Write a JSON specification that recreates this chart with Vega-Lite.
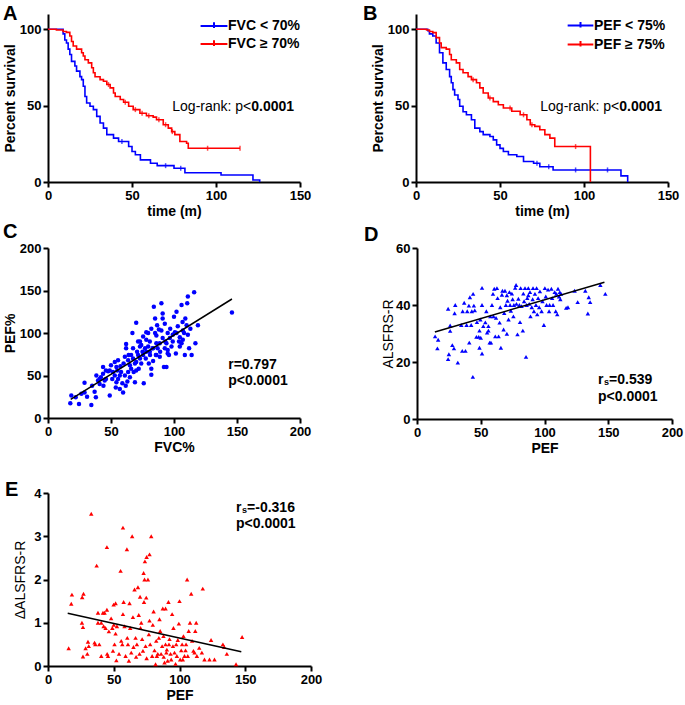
{
"$schema": "https://vega.github.io/schema/vega-lite/v6.json",
"padding": {"left": 2, "top": 3, "right": 2, "bottom": 0},
"background": "white",
"config": {
 "font": "Liberation Sans",
 "view": {"stroke": null},
 "axis": {"domainColor": "#000", "domainWidth": 2, "tickColor": "#000", "tickWidth": 2, "tickSize": 5, "labelColor": "#000", "labelFont": "Liberation Sans", "labelFontSize": 13, "labelFontWeight": "bold", "labelPadding": 2, "titleColor": "#000", "titleFont": "Liberation Sans", "titleFontSize": 14, "titleFontWeight": "bold", "grid": false, "labelFlush": false, "labelOverlap": false, "titlePadding": 2}
},
"datasets": {
 "kmA": [
  {"g":"FVC < 70%","t":0,"s":100},{"g":"FVC < 70%","t":9,"s":97},{"g":"FVC < 70%","t":10,"s":93},{"g":"FVC < 70%","t":11,"s":91},{"g":"FVC < 70%","t":12,"s":87},{"g":"FVC < 70%","t":13,"s":83.5},{"g":"FVC < 70%","t":14,"s":79},{"g":"FVC < 70%","t":16,"s":76},{"g":"FVC < 70%","t":17,"s":72.6},{"g":"FVC < 70%","t":19,"s":69},{"g":"FVC < 70%","t":20,"s":67},{"g":"FVC < 70%","t":21,"s":62.7},{"g":"FVC < 70%","t":22,"s":56},{"g":"FVC < 70%","t":23,"s":51.7},{"g":"FVC < 70%","t":25,"s":49.6},{"g":"FVC < 70%","t":27,"s":47.4},{"g":"FVC < 70%","t":29,"s":43},{"g":"FVC < 70%","t":31,"s":38.6},{"g":"FVC < 70%","t":33,"s":35.3},{"g":"FVC < 70%","t":35,"s":31},{"g":"FVC < 70%","t":39,"s":28.7},{"g":"FVC < 70%","t":42,"s":26.5},{"g":"FVC < 70%","t":48,"s":23.2},{"g":"FVC < 70%","t":50,"s":20},{"g":"FVC < 70%","t":52,"s":17.8},{"g":"FVC < 70%","t":55,"s":14.5},{"g":"FVC < 70%","t":61,"s":12.3},{"g":"FVC < 70%","t":65,"s":10.7},{"g":"FVC < 70%","t":75,"s":9},{"g":"FVC < 70%","t":81.5,"s":6.1},{"g":"FVC < 70%","t":103,"s":4.6},{"g":"FVC < 70%","t":122,"s":1.3},{"g":"FVC < 70%","t":126,"s":0},
  {"g":"FVC ≥ 70%","t":0,"s":100},{"g":"FVC ≥ 70%","t":5,"s":99.5},{"g":"FVC ≥ 70%","t":9,"s":98.5},{"g":"FVC ≥ 70%","t":11,"s":98},{"g":"FVC ≥ 70%","t":13,"s":95.6},{"g":"FVC ≥ 70%","t":14,"s":92},{"g":"FVC ≥ 70%","t":15,"s":89},{"g":"FVC ≥ 70%","t":17,"s":87},{"g":"FVC ≥ 70%","t":20,"s":84.6},{"g":"FVC ≥ 70%","t":21,"s":82.5},{"g":"FVC ≥ 70%","t":22,"s":80},{"g":"FVC ≥ 70%","t":24,"s":78},{"g":"FVC ≥ 70%","t":26,"s":74.8},{"g":"FVC ≥ 70%","t":27,"s":71.5},{"g":"FVC ≥ 70%","t":28,"s":68.9},{"g":"FVC ≥ 70%","t":31,"s":67},{"g":"FVC ≥ 70%","t":33,"s":66},{"g":"FVC ≥ 70%","t":35,"s":63.8},{"g":"FVC ≥ 70%","t":37,"s":61.6},{"g":"FVC ≥ 70%","t":39,"s":58.3},{"g":"FVC ≥ 70%","t":40,"s":56},{"g":"FVC ≥ 70%","t":43,"s":54},{"g":"FVC ≥ 70%","t":45,"s":52.2},{"g":"FVC ≥ 70%","t":48,"s":49.6},{"g":"FVC ≥ 70%","t":50.7,"s":47.4},{"g":"FVC ≥ 70%","t":54.7,"s":45},{"g":"FVC ≥ 70%","t":58.6,"s":43.4},{"g":"FVC ≥ 70%","t":62.6,"s":42.5},{"g":"FVC ≥ 70%","t":64.6,"s":40.8},{"g":"FVC ≥ 70%","t":68.6,"s":37.5},{"g":"FVC ≥ 70%","t":71.6,"s":35.3},{"g":"FVC ≥ 70%","t":73.6,"s":33},{"g":"FVC ≥ 70%","t":75.5,"s":31},{"g":"FVC ≥ 70%","t":78.5,"s":26.5},{"g":"FVC ≥ 70%","t":82.5,"s":25.4},{"g":"FVC ≥ 70%","t":83.5,"s":22.1},{"g":"FVC ≥ 70%","t":114.3,"s":22.1}
 ],
 "cA": [
  {"g":"FVC < 70%","t":44,"s":26.5},{"g":"FVC < 70%","t":70,"s":10.7},{"g":"FVC < 70%","t":79,"s":9},
  {"g":"FVC ≥ 70%","t":36,"s":63.8},{"g":"FVC ≥ 70%","t":46,"s":52.2},{"g":"FVC ≥ 70%","t":52,"s":47.4},{"g":"FVC ≥ 70%","t":56,"s":45},{"g":"FVC ≥ 70%","t":60,"s":43.4},{"g":"FVC ≥ 70%","t":66,"s":40.8},{"g":"FVC ≥ 70%","t":70,"s":37.5},{"g":"FVC ≥ 70%","t":74,"s":33},{"g":"FVC ≥ 70%","t":95,"s":22.1},{"g":"FVC ≥ 70%","t":114.3,"s":22.1}
 ],
 "kmB": [
  {"g":"PEF < 75%","t":0,"s":100},{"g":"PEF < 75%","t":7,"s":99},{"g":"PEF < 75%","t":8,"s":97},{"g":"PEF < 75%","t":10,"s":95.6},{"g":"PEF < 75%","t":12,"s":91},{"g":"PEF < 75%","t":14,"s":84.6},{"g":"PEF < 75%","t":16,"s":78},{"g":"PEF < 75%","t":18,"s":73.7},{"g":"PEF < 75%","t":20,"s":69},{"g":"PEF < 75%","t":21,"s":65},{"g":"PEF < 75%","t":22,"s":60.5},{"g":"PEF < 75%","t":23,"s":57},{"g":"PEF < 75%","t":25,"s":54},{"g":"PEF < 75%","t":26,"s":49.6},{"g":"PEF < 75%","t":28,"s":46},{"g":"PEF < 75%","t":30,"s":44},{"g":"PEF < 75%","t":33,"s":40.8},{"g":"PEF < 75%","t":35,"s":35.3},{"g":"PEF < 75%","t":38,"s":33},{"g":"PEF < 75%","t":40,"s":31},{"g":"PEF < 75%","t":44,"s":29.8},{"g":"PEF < 75%","t":46,"s":27.6},{"g":"PEF < 75%","t":48,"s":24.3},{"g":"PEF < 75%","t":50,"s":22},{"g":"PEF < 75%","t":52,"s":20},{"g":"PEF < 75%","t":55,"s":17.8},{"g":"PEF < 75%","t":60,"s":16.7},{"g":"PEF < 75%","t":64,"s":13.4},{"g":"PEF < 75%","t":70,"s":12.3},{"g":"PEF < 75%","t":73.7,"s":10},{"g":"PEF < 75%","t":81.6,"s":7.9},{"g":"PEF < 75%","t":122,"s":4},{"g":"PEF < 75%","t":126,"s":0},
  {"g":"PEF ≥ 75%","t":0,"s":100},{"g":"PEF ≥ 75%","t":6.3,"s":99.5},{"g":"PEF ≥ 75%","t":8,"s":98.5},{"g":"PEF ≥ 75%","t":10,"s":97.8},{"g":"PEF ≥ 75%","t":12,"s":94.5},{"g":"PEF ≥ 75%","t":14,"s":91},{"g":"PEF ≥ 75%","t":15,"s":88},{"g":"PEF ≥ 75%","t":18,"s":87},{"g":"PEF ≥ 75%","t":20,"s":83.5},{"g":"PEF ≥ 75%","t":21,"s":80},{"g":"PEF ≥ 75%","t":24,"s":78},{"g":"PEF ≥ 75%","t":26,"s":73.7},{"g":"PEF ≥ 75%","t":28,"s":71.5},{"g":"PEF ≥ 75%","t":31,"s":69},{"g":"PEF ≥ 75%","t":33,"s":67},{"g":"PEF ≥ 75%","t":36,"s":65},{"g":"PEF ≥ 75%","t":38,"s":61.6},{"g":"PEF ≥ 75%","t":40,"s":58.3},{"g":"PEF ≥ 75%","t":43,"s":55},{"g":"PEF ≥ 75%","t":46,"s":52.6},{"g":"PEF ≥ 75%","t":49,"s":50.6},{"g":"PEF ≥ 75%","t":52,"s":48.5},{"g":"PEF ≥ 75%","t":57,"s":46.3},{"g":"PEF ≥ 75%","t":62,"s":44},{"g":"PEF ≥ 75%","t":66,"s":40.8},{"g":"PEF ≥ 75%","t":68,"s":37.5},{"g":"PEF ≥ 75%","t":70.7,"s":36.4},{"g":"PEF ≥ 75%","t":73.7,"s":34.2},{"g":"PEF ≥ 75%","t":76.7,"s":31},{"g":"PEF ≥ 75%","t":79.7,"s":28.7},{"g":"PEF ≥ 75%","t":82.6,"s":23.2},{"g":"PEF ≥ 75%","t":103.8,"s":23.2},{"g":"PEF ≥ 75%","t":103.8,"s":0}
 ],
 "cB": [
  {"g":"PEF < 75%","t":72,"s":12.3},{"g":"PEF < 75%","t":79,"s":10},{"g":"PEF < 75%","t":95,"s":7.9},{"g":"PEF < 75%","t":114,"s":7.9},
  {"g":"PEF ≥ 75%","t":34,"s":67},{"g":"PEF ≥ 75%","t":44,"s":55},{"g":"PEF ≥ 75%","t":56,"s":48.5},{"g":"PEF ≥ 75%","t":64,"s":44},{"g":"PEF ≥ 75%","t":69,"s":37.5},{"g":"PEF ≥ 75%","t":95,"s":23.2}
 ],
 "C": [
  {"x":17.7,"y":17.4},{"x":18.5,"y":26.5},{"x":22,"y":24.5},{"x":24.6,"y":16.6},{"x":26.5,"y":28.5},{"x":29,"y":30},{"x":29,"y":41.5},{"x":31,"y":25},{"x":34.4,"y":15.4},{"x":35,"y":38},{"x":37,"y":31},{"x":38,"y":24.5},{"x":38.4,"y":50},{"x":39.7,"y":44},{"x":41,"y":46},{"x":42,"y":48},{"x":43.7,"y":52},{"x":43.7,"y":60},{"x":44,"y":38},{"x":45,"y":44},{"x":46,"y":56},{"x":47.7,"y":55},{"x":49,"y":26.5},{"x":50,"y":62},{"x":51,"y":46},{"x":51.6,"y":54},{"x":53,"y":66},{"x":53,"y":50},{"x":53.8,"y":36},{"x":54.3,"y":42},{"x":55,"y":56},{"x":55.6,"y":68},{"x":55.6,"y":46},{"x":57,"y":34},{"x":57.5,"y":61},{"x":58,"y":54},{"x":59,"y":41},{"x":59.6,"y":30},{"x":60,"y":64},{"x":61,"y":72},{"x":61.7,"y":38},{"x":62,"y":87},{"x":62,"y":82},{"x":63,"y":43},{"x":63.6,"y":68},{"x":64,"y":74},{"x":65,"y":62},{"x":65,"y":48},{"x":66,"y":58},{"x":67,"y":100},{"x":67.5,"y":70},{"x":67.5,"y":82},{"x":68,"y":54},{"x":69,"y":64},{"x":69,"y":42},{"x":70,"y":112},{"x":70,"y":56},{"x":70,"y":66},{"x":70.7,"y":78},{"x":71.5,"y":74},{"x":72,"y":58},{"x":73,"y":84},{"x":73,"y":90},{"x":74,"y":64},{"x":75,"y":78},{"x":75.5,"y":96},{"x":76,"y":41},{"x":77,"y":82},{"x":77.6,"y":70},{"x":78,"y":92},{"x":79.5,"y":100},{"x":79.5,"y":84},{"x":80,"y":64},{"x":80.8,"y":90},{"x":81,"y":74},{"x":82,"y":58},{"x":82,"y":51},{"x":83,"y":82},{"x":83.4,"y":67},{"x":84,"y":131},{"x":85,"y":100},{"x":85,"y":117},{"x":85.6,"y":74},{"x":86,"y":88},{"x":86.6,"y":109},{"x":87,"y":82},{"x":88,"y":104},{"x":88.7,"y":72},{"x":89,"y":78},{"x":90,"y":135},{"x":91,"y":117},{"x":91,"y":123},{"x":92,"y":60},{"x":92.7,"y":111},{"x":93,"y":90},{"x":94,"y":60},{"x":95,"y":76},{"x":95,"y":100},{"x":96,"y":74},{"x":97,"y":105},{"x":98,"y":84},{"x":99,"y":98},{"x":100,"y":119},{"x":100.7,"y":101},{"x":101.5,"y":76},{"x":102,"y":125},{"x":103,"y":108},{"x":104,"y":90},{"x":104.6,"y":95},{"x":106,"y":133},{"x":106,"y":88},{"x":106.8,"y":113},{"x":107,"y":103},{"x":108,"y":100},{"x":108.6,"y":74},{"x":109,"y":117},{"x":110,"y":109},{"x":110.5,"y":135},{"x":111,"y":143},{"x":111,"y":98},{"x":112,"y":82},{"x":113,"y":105},{"x":114,"y":74},{"x":116,"y":148},{"x":117,"y":88},{"x":119,"y":109},{"x":146,"y":124},
  {"x":66,"y":74},{"x":73,"y":70},{"x":75.5,"y":74},{"x":78,"y":78},{"x":80.8,"y":78},{"x":83.4,"y":82},{"x":86,"y":74},{"x":88.7,"y":88},{"x":91,"y":94},{"x":94,"y":88},{"x":96.7,"y":94},{"x":99,"y":90},{"x":102,"y":100},{"x":63.6,"y":54},{"x":61,"y":50},{"x":57,"y":50},{"x":54.3,"y":60},{"x":49,"y":56},{"x":46,"y":46},{"x":41,"y":40},{"x":71.5,"y":90},{"x":74,"y":86},{"x":78,"y":101},{"x":82,"y":105},{"x":86,"y":97},{"x":90,"y":103},{"x":92.7,"y":82},{"x":95,"y":80},{"x":104.6,"y":84},{"x":107,"y":92}
 ],
 "D": [
  {"x":14.2,"y":29},{"x":16.6,"y":27.8},{"x":16,"y":24.8},{"x":24.4,"y":38.7},{"x":25,"y":22.7},{"x":24.4,"y":21},{"x":26,"y":32.8},{"x":26,"y":30.9},{"x":27.7,"y":25.9},{"x":29,"y":24.8},{"x":29.5,"y":37.1},{"x":30,"y":40},{"x":32,"y":19.8},{"x":34.7,"y":33},{"x":35.8,"y":37.8},{"x":35.5,"y":23.9},{"x":37,"y":40.8},{"x":38,"y":23.9},{"x":38.9,"y":33},{"x":39.4,"y":37.8},{"x":40.7,"y":39.8},{"x":41,"y":26.8},{"x":41.5,"y":42.7},{"x":42.5,"y":33},{"x":43,"y":37.8},{"x":43.8,"y":14.8},{"x":44,"y":43.9},{"x":44.6,"y":39.8},{"x":45.3,"y":38.1},{"x":46.6,"y":28.8},{"x":47,"y":34},{"x":48.4,"y":28.8},{"x":49,"y":25},{"x":49,"y":31},{"x":49.7,"y":34.9},{"x":50,"y":28.5},{"x":51,"y":40},{"x":51,"y":46},{"x":51,"y":23},{"x":52,"y":32.6},{"x":53.6,"y":33.9},{"x":54.4,"y":37.8},{"x":55,"y":30.3},{"x":56,"y":31},{"x":56,"y":32.6},{"x":57,"y":26.8},{"x":57.5,"y":36},{"x":58,"y":26.8},{"x":58.8,"y":40},{"x":59.6,"y":43.9},{"x":60,"y":36},{"x":60.6,"y":45.7},{"x":61.4,"y":29},{"x":62,"y":35.5},{"x":62.7,"y":45.9},{"x":63.2,"y":42.4},{"x":64,"y":29},{"x":64.8,"y":33.8},{"x":65.3,"y":39.2},{"x":65.8,"y":25},{"x":66.6,"y":43.6},{"x":67,"y":45},{"x":67.9,"y":31.4},{"x":68.4,"y":37.2},{"x":69,"y":45},{"x":69.7,"y":40},{"x":70.5,"y":29.9},{"x":70.5,"y":43.4},{"x":71,"y":41.5},{"x":71.8,"y":34.9},{"x":72.5,"y":44.5},{"x":73,"y":40},{"x":73.6,"y":38},{"x":74.4,"y":44},{"x":75,"y":42},{"x":75.6,"y":36},{"x":76,"y":40},{"x":77,"y":46},{"x":77.7,"y":47},{"x":78,"y":40.4},{"x":78.8,"y":29.7},{"x":79.5,"y":42.2},{"x":80.3,"y":40},{"x":80.8,"y":34},{"x":81.3,"y":45.9},{"x":82,"y":39.6},{"x":83,"y":31},{"x":83.4,"y":44},{"x":84,"y":41.3},{"x":84.7,"y":45.9},{"x":85.5,"y":21.8},{"x":86,"y":40},{"x":86.5,"y":42.4},{"x":87.3,"y":45.9},{"x":87.3,"y":43.4},{"x":88,"y":40.4},{"x":88.6,"y":44.5},{"x":89,"y":36},{"x":90,"y":39.2},{"x":90.7,"y":42},{"x":91,"y":45.9},{"x":91.7,"y":37.8},{"x":92.5,"y":43.9},{"x":93.3,"y":40},{"x":93.8,"y":45.9},{"x":94.3,"y":36.7},{"x":95,"y":42.4},{"x":95.8,"y":39.2},{"x":96.4,"y":44.8},{"x":97.7,"y":37.8},{"x":98.4,"y":41.3},{"x":99.5,"y":33},{"x":100.3,"y":45.9},{"x":101,"y":43},{"x":101.6,"y":40},{"x":102.8,"y":45.4},{"x":103.6,"y":37.8},{"x":104,"y":40},{"x":105.4,"y":45.7},{"x":106,"y":42.4},{"x":106.7,"y":40},{"x":108,"y":44.5},{"x":108.8,"y":37.8},{"x":109.3,"y":43.9},{"x":110,"y":36.7},{"x":110.6,"y":45.7},{"x":111.4,"y":43},{"x":112,"y":44.5},{"x":112.4,"y":42},{"x":113,"y":43.9},{"x":117,"y":39},{"x":118.4,"y":39.2},{"x":123.6,"y":45},{"x":126,"y":41},{"x":132,"y":45},{"x":134,"y":37},{"x":134.7,"y":42.7},{"x":135.8,"y":41},{"x":143.8,"y":47},{"x":147.7,"y":43.9}
 ],
 "E": [
  {"x":15.7,"y":0.41},{"x":17.7,"y":1.44},{"x":18.2,"y":1.65},{"x":25.8,"y":1.0},{"x":26,"y":1.59},{"x":27,"y":1.67},{"x":26.6,"y":0.9},{"x":26.6,"y":0.22},{"x":28.6,"y":0.41},{"x":29.9,"y":0.28},{"x":30.4,"y":0.56},{"x":31,"y":0.46},{"x":32.9,"y":3.52},{"x":35.4,"y":0.54},{"x":36,"y":0.5},{"x":37,"y":2.32},{"x":38,"y":1.23},{"x":38,"y":1.0},{"x":39,"y":0.5},{"x":40.5,"y":0.23},{"x":40.5,"y":1.0},{"x":41.8,"y":1.23},{"x":42.3,"y":0.92},{"x":43,"y":1.23},{"x":43.8,"y":0.88},{"x":44.8,"y":2.75},{"x":44.8,"y":1.3},{"x":45,"y":0.28},{"x":45.6,"y":0.23},{"x":46.3,"y":0.8},{"x":48,"y":1.1},{"x":48.9,"y":0.88},{"x":49.4,"y":0.35},{"x":49.9,"y":1.42},{"x":50,"y":0.95},{"x":50.6,"y":0.5},{"x":51.4,"y":1.45},{"x":51.4,"y":0.75},{"x":52,"y":0.13},{"x":52.4,"y":0.92},{"x":54,"y":0.28},{"x":55.2,"y":2.2},{"x":55.7,"y":0.58},{"x":56.5,"y":0.5},{"x":57,"y":3.2},{"x":57,"y":1.2},{"x":57.5,"y":1.48},{"x":58.2,"y":0.92},{"x":59,"y":0.23},{"x":60,"y":2.7},{"x":60.3,"y":0.65},{"x":60.8,"y":0.5},{"x":61.5,"y":0.12},{"x":62,"y":1.45},{"x":62.5,"y":0.88},{"x":63.3,"y":0.31},{"x":64,"y":3.0},{"x":64.6,"y":1.13},{"x":65,"y":0.44},{"x":65.8,"y":1.77},{"x":66.6,"y":0.65},{"x":67,"y":0.21},{"x":67.6,"y":0.5},{"x":68.4,"y":1.82},{"x":69,"y":1.18},{"x":69.6,"y":0.28},{"x":70,"y":1.6},{"x":70.4,"y":0.88},{"x":70.9,"y":1.0},{"x":71.6,"y":0.62},{"x":72.2,"y":0.35},{"x":72.7,"y":2.15},{"x":73,"y":1.48},{"x":73.4,"y":2.0},{"x":73.7,"y":2.42},{"x":74.2,"y":0.46},{"x":74.7,"y":1.58},{"x":75,"y":0.18},{"x":75,"y":2.52},{"x":76,"y":2.0},{"x":76.7,"y":0.73},{"x":77.2,"y":2.58},{"x":77.2,"y":1.05},{"x":77.7,"y":0.5},{"x":78.5,"y":3.0},{"x":79.2,"y":0.23},{"x":79.7,"y":0.95},{"x":80.3,"y":1.26},{"x":81,"y":0.36},{"x":81.8,"y":0.04},{"x":82.3,"y":0.58},{"x":82.8,"y":0.23},{"x":83.5,"y":0.28},{"x":84.3,"y":0.65},{"x":84.8,"y":1.08},{"x":85.3,"y":0.81},{"x":86,"y":0.28},{"x":86.8,"y":0.46},{"x":87.3,"y":1.33},{"x":87.8,"y":0.69},{"x":88,"y":0.21},{"x":88.6,"y":0.08},{"x":89.4,"y":1.33},{"x":89.4,"y":0.5},{"x":90,"y":0.31},{"x":90.4,"y":0.38},{"x":91,"y":0.12},{"x":91.6,"y":1.48},{"x":92,"y":0.5},{"x":92.4,"y":0.62},{"x":93.2,"y":0.28},{"x":93.7,"y":0.15},{"x":94.4,"y":1.2},{"x":95,"y":0.46},{"x":95.4,"y":0.88},{"x":96.2,"y":0.31},{"x":97,"y":0.05},{"x":97.5,"y":0.5},{"x":98,"y":0.23},{"x":98.7,"y":0.6},{"x":99.5,"y":0.98},{"x":100,"y":1.5},{"x":100.5,"y":0.15},{"x":101.3,"y":0.36},{"x":102,"y":0.5},{"x":102.5,"y":0.15},{"x":103,"y":0.69},{"x":103.8,"y":0.23},{"x":104.6,"y":0.36},{"x":105,"y":0.5},{"x":105.8,"y":2.0},{"x":106.3,"y":0.23},{"x":107,"y":0.81},{"x":108,"y":1.0},{"x":108.9,"y":1.67},{"x":109.6,"y":0.58},{"x":110.6,"y":0.35},{"x":111.4,"y":0.31},{"x":112,"y":0.81},{"x":112.7,"y":1.0},{"x":113.2,"y":0.23},{"x":115,"y":0.42},{"x":117,"y":0.31},{"x":117.7,"y":1.79},{"x":119,"y":0.15},{"x":122.8,"y":0.15},{"x":124,"y":0.6},{"x":126.6,"y":0.15},{"x":133,"y":0.5},{"x":134,"y":0.44},{"x":136,"y":0.28},{"x":143,"y":0.04},{"x":147.6,"y":0.67}
 ]
},
"resolve": {"scale": {"color": "independent"}, "legend": {"color": "independent"}},
"spacing": 25,
"vconcat": [
 {
  "spacing": 3,
  "resolve": {"scale": {"color": "independent"}, "legend": {"color": "independent"}},
  "vconcat": [
 {
  "hconcat": [
   {
    "width": 252, "height": 168,
    "layer": [
     {"data": {"name": "kmA"}, "mark": {"type": "line", "interpolate": "step-after", "strokeWidth": 1.6},
      "encoding": {
       "x": {"field": "t", "type": "quantitative", "scale": {"domain": [0, 150], "nice": false}, "axis": {"values": [0, 50, 100, 150], "title": "time (m)"}},
       "y": {"field": "s", "type": "quantitative", "scale": {"domain": [0, 110], "nice": false}, "axis": {"values": [0, 50, 100], "title": "Percent survival"}},
       "color": {"field": "g", "type": "nominal", "scale": {"domain": ["FVC < 70%", "FVC ≥ 70%"], "range": ["#0000ff", "#ff0000"]},
        "legend": {"orient": "none", "legendX": 158, "legendY": 4, "title": null, "labelFontSize": 14, "labelFontWeight": "bold", "labelColor": "#000", "labelFont": "Liberation Sans", "symbolType": "M-2,0H2M0,-0.55V0.3", "symbolSize": 180, "symbolStrokeWidth": 2, "rowPadding": 3, "labelOffset": 6}}
      }},
     {"data": {"name": "cA"}, "mark": {"type": "tick", "orient": "vertical", "size": 5, "thickness": 1.5},
      "encoding": {"x": {"field": "t", "type": "quantitative"}, "y": {"field": "s", "type": "quantitative"}, "color": {"field": "g", "type": "nominal", "legend": null}}},
     {"data": {"values": [{"x": 121, "y": 49, "label": "Log-rank: p<"}]}, "mark": {"type": "text", "align": "right", "baseline": "middle", "fontSize": 14, "color": "#000"},
      "encoding": {"x": {"field": "x", "type": "quantitative"}, "y": {"field": "y", "type": "quantitative"}, "text": {"field": "label"}}},
     {"data": {"values": [{"x": 121, "y": 49, "label": "0.0001"}]}, "mark": {"type": "text", "align": "left", "baseline": "middle", "fontSize": 14, "fontWeight": "bold", "color": "#000"},
      "encoding": {"x": {"field": "x", "type": "quantitative"}, "y": {"field": "y", "type": "quantitative"}, "text": {"field": "label"}}},
     {"data": {"values": [{"x": -26.8, "y": 106.1, "label": "A"}]}, "mark": {"type": "text", "align": "left", "baseline": "alphabetic", "fontSize": 20, "fontWeight": "bold", "color": "#000"},
      "encoding": {"x": {"field": "x", "type": "quantitative"}, "y": {"field": "y", "type": "quantitative"}, "text": {"field": "label"}}}
    ]
   },
   {
    "width": 252, "height": 168,
    "layer": [
     {"data": {"name": "kmB"}, "mark": {"type": "line", "interpolate": "step-after", "strokeWidth": 1.6},
      "encoding": {
       "x": {"field": "t", "type": "quantitative", "scale": {"domain": [0, 150], "nice": false}, "axis": {"values": [0, 50, 100, 150], "title": "time (m)"}},
       "y": {"field": "s", "type": "quantitative", "scale": {"domain": [0, 110], "nice": false}, "axis": {"values": [0, 50, 100], "title": "Percent survival"}},
       "color": {"field": "g", "type": "nominal", "scale": {"domain": ["PEF < 75%", "PEF ≥ 75%"], "range": ["#0000ff", "#ff0000"]},
        "legend": {"orient": "none", "legendX": 157, "legendY": 4, "title": null, "labelFontSize": 14, "labelFontWeight": "bold", "labelColor": "#000", "labelFont": "Liberation Sans", "symbolType": "M-2,0H2M0,-0.55V0.3", "symbolSize": 165, "symbolStrokeWidth": 2, "rowPadding": 3, "labelOffset": 6}}
      }},
     {"data": {"name": "cB"}, "mark": {"type": "tick", "orient": "vertical", "size": 5, "thickness": 1.5},
      "encoding": {"x": {"field": "t", "type": "quantitative"}, "y": {"field": "s", "type": "quantitative"}, "color": {"field": "g", "type": "nominal", "legend": null}}},
     {"data": {"values": [{"x": 121, "y": 49, "label": "Log-rank: p<"}]}, "mark": {"type": "text", "align": "right", "baseline": "middle", "fontSize": 14, "color": "#000"},
      "encoding": {"x": {"field": "x", "type": "quantitative"}, "y": {"field": "y", "type": "quantitative"}, "text": {"field": "label"}}},
     {"data": {"values": [{"x": 121, "y": 49, "label": "0.0001"}]}, "mark": {"type": "text", "align": "left", "baseline": "middle", "fontSize": 14, "fontWeight": "bold", "color": "#000"},
      "encoding": {"x": {"field": "x", "type": "quantitative"}, "y": {"field": "y", "type": "quantitative"}, "text": {"field": "label"}}},
     {"data": {"values": [{"x": -31.5, "y": 106.1, "label": "B"}]}, "mark": {"type": "text", "align": "left", "baseline": "alphabetic", "fontSize": 20, "fontWeight": "bold", "color": "#000"},
      "encoding": {"x": {"field": "x", "type": "quantitative"}, "y": {"field": "y", "type": "quantitative"}, "text": {"field": "label"}}}
    ]
   }
  ],
  "spacing": 52,
  "resolve": {"scale": {"color": "independent"}, "legend": {"color": "independent"}}
 },
 {
  "hconcat": [
   {
    "width": 252, "height": 170,
    "layer": [
     {"data": {"name": "C"}, "mark": {"type": "point", "shape": "circle", "filled": true, "size": 20, "color": "#0000ff", "opacity": 1},
      "encoding": {
       "x": {"field": "x", "type": "quantitative", "scale": {"domain": [0, 200], "nice": false}, "axis": {"values": [0, 50, 100, 150, 200], "title": "FVC%"}},
       "y": {"field": "y", "type": "quantitative", "scale": {"domain": [0, 200], "nice": false}, "axis": {"values": [0, 50, 100, 150, 200], "title": "PEF%"}}
      }},
     {"data": {"values": [{"x1": 18, "y1": 22, "x2": 146, "y2": 140}]}, "mark": {"type": "rule", "color": "#000", "strokeWidth": 1.5},
      "encoding": {"x": {"field": "x1", "type": "quantitative"}, "y": {"field": "y1", "type": "quantitative"}, "x2": {"field": "x2"}, "y2": {"field": "y2"}}},
     {"data": {"values": [{"x": 143, "y": 62.7, "label": "r=0.797"}, {"x": 143, "y": 43.8, "label": "p<0.0001"}]}, "mark": {"type": "text", "align": "left", "baseline": "middle", "fontSize": 14, "fontWeight": "bold", "color": "#000"},
      "encoding": {"x": {"field": "x", "type": "quantitative"}, "y": {"field": "y", "type": "quantitative"}, "text": {"field": "label"}}},
     {"data": {"values": [{"x": -35.7, "y": 211.8, "label": "C"}]}, "mark": {"type": "text", "align": "left", "baseline": "alphabetic", "fontSize": 20, "fontWeight": "bold", "color": "#000"},
      "encoding": {"x": {"field": "x", "type": "quantitative"}, "y": {"field": "y", "type": "quantitative"}, "text": {"field": "label"}}}
    ]
   },
   {
    "width": 255, "height": 171,
    "layer": [
     {"data": {"name": "D"}, "mark": {"type": "point", "shape": "triangle-up", "filled": true, "size": 20, "color": "#0000ff", "opacity": 1},
      "encoding": {
       "x": {"field": "x", "type": "quantitative", "scale": {"domain": [0, 200], "nice": false}, "axis": {"values": [0, 50, 100, 150, 200], "title": "PEF"}},
       "y": {"field": "y", "type": "quantitative", "scale": {"domain": [0, 60], "nice": false}, "axis": {"values": [0, 20, 40, 60], "title": "ALSFRS-R", "titleFontWeight": "normal", "titleFontSize": 14, "titlePadding": 0}}
      }},
     {"data": {"values": [{"x1": 14, "y1": 30.5, "x2": 147, "y2": 48}]}, "mark": {"type": "rule", "color": "#000", "strokeWidth": 1.5},
      "encoding": {"x": {"field": "x1", "type": "quantitative"}, "y": {"field": "y1", "type": "quantitative"}, "x2": {"field": "x2"}, "y2": {"field": "y2"}}},
     {"data": {"values": [{"x": 142, "y": 13.6, "label": "r"}, {"x": 142, "y": 7.7, "label": "p<0.0001"}]}, "mark": {"type": "text", "align": "left", "baseline": "middle", "fontSize": 14, "fontWeight": "bold", "color": "#000"},
      "encoding": {"x": {"field": "x", "type": "quantitative"}, "y": {"field": "y", "type": "quantitative"}, "text": {"field": "label"}}},
     {"data": {"values": [{"x": 142, "y": 13.6, "label": "s"}]}, "mark": {"type": "text", "align": "left", "baseline": "middle", "fontSize": 9, "fontWeight": "bold", "color": "#000", "dx": 6, "dy": 2},
      "encoding": {"x": {"field": "x", "type": "quantitative"}, "y": {"field": "y", "type": "quantitative"}, "text": {"field": "label"}}},
     {"data": {"values": [{"x": 142, "y": 13.6, "label": "=0.539"}]}, "mark": {"type": "text", "align": "left", "baseline": "middle", "fontSize": 14, "fontWeight": "bold", "color": "#000", "dx": 11},
      "encoding": {"x": {"field": "x", "type": "quantitative"}, "y": {"field": "y", "type": "quantitative"}, "text": {"field": "label"}}},
     {"data": {"values": [{"x": -41.6, "y": 62.4, "label": "D"}]}, "mark": {"type": "text", "align": "left", "baseline": "alphabetic", "fontSize": 20, "fontWeight": "bold", "color": "#000"},
      "encoding": {"x": {"field": "x", "type": "quantitative"}, "y": {"field": "y", "type": "quantitative"}, "text": {"field": "label"}}}
    ]
   }
  ],
  "spacing": 52
 }
  ]
 },
 {
  "width": 263, "height": 173,
  "layer": [
   {"data": {"name": "E"}, "mark": {"type": "point", "shape": "triangle-up", "filled": true, "size": 20, "color": "#ff0000", "opacity": 1},
    "encoding": {
     "x": {"field": "x", "type": "quantitative", "scale": {"domain": [0, 200], "nice": false}, "axis": {"values": [0, 50, 100, 150, 200], "title": "PEF"}},
     "y": {"field": "y", "type": "quantitative", "scale": {"domain": [0, 4], "nice": false}, "axis": {"values": [0, 1, 2, 3, 4], "title": "ΔALSFRS-R", "titleFontWeight": "normal", "titleFontSize": 14, "titlePadding": 6}}
    }},
   {"data": {"values": [{"x1": 15, "y1": 1.22, "x2": 147, "y2": 0.33}]}, "mark": {"type": "rule", "color": "#000", "strokeWidth": 1.5},
    "encoding": {"x": {"field": "x1", "type": "quantitative"}, "y": {"field": "y1", "type": "quantitative"}, "x2": {"field": "x2"}, "y2": {"field": "y2"}}},
   {"data": {"values": [{"x": 143, "y": 3.66, "label": "r"}, {"x": 143, "y": 3.28, "label": "p<0.0001"}]}, "mark": {"type": "text", "align": "left", "baseline": "middle", "fontSize": 14, "fontWeight": "bold", "color": "#000"},
    "encoding": {"x": {"field": "x", "type": "quantitative"}, "y": {"field": "y", "type": "quantitative"}, "text": {"field": "label"}}},
   {"data": {"values": [{"x": 143, "y": 3.66, "label": "s"}]}, "mark": {"type": "text", "align": "left", "baseline": "middle", "fontSize": 9, "fontWeight": "bold", "color": "#000", "dx": 6, "dy": 2},
    "encoding": {"x": {"field": "x", "type": "quantitative"}, "y": {"field": "y", "type": "quantitative"}, "text": {"field": "label"}}},
   {"data": {"values": [{"x": 143, "y": 3.66, "label": "=-0.316"}]}, "mark": {"type": "text", "align": "left", "baseline": "middle", "fontSize": 14, "fontWeight": "bold", "color": "#000", "dx": 11},
    "encoding": {"x": {"field": "x", "type": "quantitative"}, "y": {"field": "y", "type": "quantitative"}, "text": {"field": "label"}}},
   {"data": {"values": [{"x": -32.7, "y": 3.93, "label": "E"}]}, "mark": {"type": "text", "align": "left", "baseline": "alphabetic", "fontSize": 20, "fontWeight": "bold", "color": "#000"},
    "encoding": {"x": {"field": "x", "type": "quantitative"}, "y": {"field": "y", "type": "quantitative"}, "text": {"field": "label"}}}
  ]
 }
]
}
